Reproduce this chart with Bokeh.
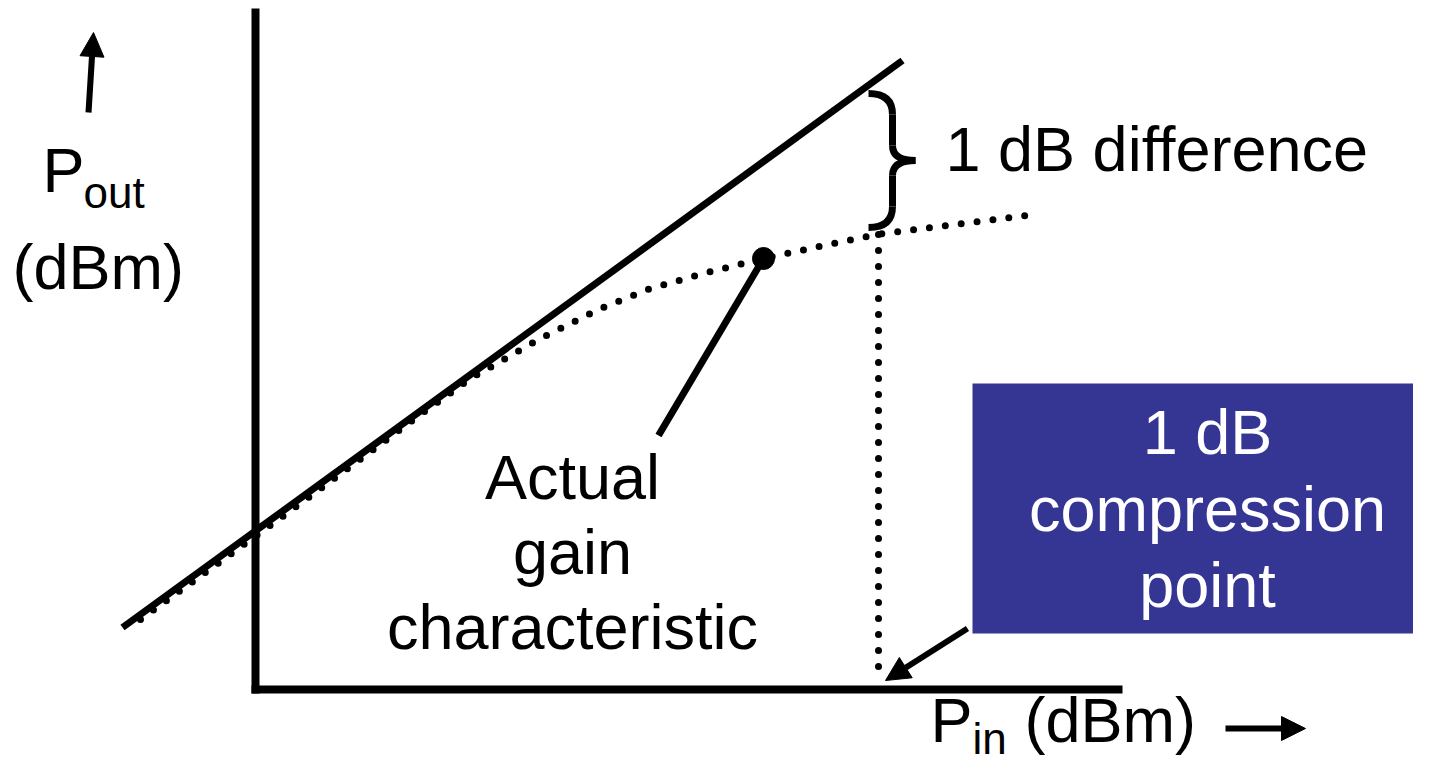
from bokeh.plotting import figure
from bokeh.models import Range1d, Arrow, NormalHead
from bokeh.core.properties import value
from bokeh.embed import file_html
from bokeh.resources import INLINE

FONT = value("Liberation Sans")

# ---- data (arbitrary dBm-like units; axes cross at 0,0) ----
# ideal linear gain line
pin_ideal = [-13.3, 64.7]
pout_ideal = [6.2, 62.9]
# actual (compressed) gain characteristic
pin_actual = [-11.5, 4.5, 16.5, 21.5, 28.5, 34.5, 39.5, 44.8, 50.8, 57.3, 62.1, 69.9, 78.0]
pout_actual = [7.0, 18.6, 27.5, 31.1, 35.1, 38.1, 40.1, 41.6, 43.1, 44.5, 45.5, 46.5, 47.5]
# marked point on actual curve
pt_x = [50.8]
pt_y = [43.1]
# leader line from marked point to label
lead_x = [50.8, 40.3]
lead_y = [43.1, 25.4]
# 1 dB compression input level (vertical dotted drop)
p1db_x = [62.3, 62.3]
p1db_y = [45.5, 1.8]
# axes
yaxis_x = [0, 0]
yaxis_y = [68.1, -0.4]
xaxis_x = [-0.4, 86.7]
xaxis_y = [0, 0]
# brace pieces
brace_top = dict(x0=61.3, y0=59.6, x1=63.7, y1=57.5, cx=63.7, cy=59.6)
brace_v1 = ([63.7, 63.7], [57.5, 54.4])
brace_m1 = dict(x0=63.7, y0=54.4, x1=66.0, y1=52.9, cx=63.7, cy=52.9)
brace_m2 = dict(x0=66.0, y0=52.9, x1=63.7, y1=51.4, cx=63.7, cy=52.9)
brace_v2 = ([63.7, 63.7], [51.4, 48.3])
brace_bot = dict(x0=63.7, y0=48.3, x1=61.3, y1=46.2, cx=63.7, cy=46.2)
# label box
box = dict(left=71.7, right=118.0, top=30.6, bottom=5.6)
box_text = ["1 dB", "compression", "point"]
box_text_x = [95.2, 95.2, 95.2]
box_text_y = [23.4, 15.7, 8.1]
# curve label
curve_text = ["Actual", "gain", "characteristic"]
curve_text_x = [31.7, 31.7, 31.7]
curve_text_y = [18.9, 11.4, 3.9]
# difference label
diff_text = ["1 dB difference"]
diff_x = [69.0]
diff_y = [51.7]
# axis labels: (text, x, baseline y, font px)
axis_labels = [
    ("P", -21.3, 49.6, 63),
    ("out", -17.2, 48.1, 44),
    ("(dBm)", -24.3, 39.9, 63),
    ("P", 67.5, -5.4, 63),
    ("in", 71.7, -6.5, 44),
    ("(dBm)", 76.9, -5.4, 63),
]
# arrows (x_start, y_start, x_end, y_end)
arrow_box = (71.2, 6.1, 63.0, 0.9)
arrow_y = (-16.7, 57.7, -16.2, 65.7)
arrow_x = (97.0, -3.9, 105.0, -3.9)

BASE_SHIFT = 0.037  # data units per font px, to sit glyphs on their baseline


def up(ys, fs):
    return [v + BASE_SHIFT * fs for v in ys]


p = figure(width=1413, height=765, output_backend="svg", toolbar_location=None,
           x_range=Range1d(-25.5, 115.8), y_range=Range1d(-7.6, 68.9),
           min_border=0, min_border_left=0, min_border_right=0,
           min_border_top=0, min_border_bottom=0)
p.axis.visible = False
p.grid.visible = False
p.outline_line_color = None
p.background_fill_color = "white"
p.border_fill_color = "white"

# box
p.quad(left=[box["left"]], right=[box["right"]], top=[box["top"]], bottom=[box["bottom"]],
       fill_color="#353594", line_color=None)

# axes
p.line(yaxis_x, yaxis_y, line_width=8, line_color="black", line_cap="butt")
p.line(xaxis_x, xaxis_y, line_width=8, line_color="black", line_cap="butt")

# actual curve (dotted)
p.line(pin_actual, pout_actual, line_width=7, line_color="black",
       line_dash="0 16", line_cap="round", line_join="round")
# vertical dotted
p.line(p1db_x, p1db_y, line_width=7, line_color="black",
       line_dash="0 16", line_cap="round")
# ideal line
p.line(pin_ideal, pout_ideal, line_width=7, line_color="black", line_cap="butt")

# marked point & leader
p.line(lead_x, lead_y, line_width=7, line_color="black")
p.scatter(pt_x, pt_y, size=22, color="black")

# brace
for q in (brace_top, brace_m1, brace_m2, brace_bot):
    p.quadratic(x0=[q["x0"]], y0=[q["y0"]], x1=[q["x1"]], y1=[q["y1"]],
                cx=[q["cx"]], cy=[q["cy"]], line_width=7, line_color="black")
for seg in (brace_v1, brace_v2):
    p.line(seg[0], seg[1], line_width=7, line_color="black")

# arrows
for (xs, ys, xe, ye) in (arrow_box, arrow_y, arrow_x):
    p.add_layout(Arrow(end=NormalHead(size=24, fill_color="black", line_color="black"),
                       x_start=xs, y_start=ys, x_end=xe, y_end=ye,
                       line_width=6, line_color="black"))

# texts
p.text(x=diff_x, y=up(diff_y, 63), text=diff_text, text_font=FONT,
       text_font_size="63px", text_baseline="alphabetic", text_align="left", text_color="black")
p.text(x=curve_text_x, y=up(curve_text_y, 63), text=curve_text, text_font=FONT,
       text_font_size="63px", text_baseline="alphabetic", text_align="center", text_color="black")
p.text(x=box_text_x, y=up(box_text_y, 63), text=box_text, text_font=FONT,
       text_font_size="63px", text_baseline="alphabetic", text_align="center", text_color="white")

for (t, x, y, fs) in axis_labels:
    p.text(x=[x], y=up([y], fs), text=[t], text_font=FONT, text_font_size=f"{fs}px",
           text_baseline="alphabetic", text_align="left", text_color="black")

open("out.html", "w").write(file_html(p, INLINE))
